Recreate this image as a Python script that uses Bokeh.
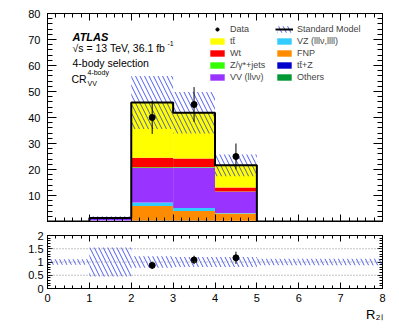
import numpy as np
from bokeh.plotting import figure
from bokeh.models import (Label, Legend, LegendItem, LinearAxis, FixedTicker, Span, Title,
                          Range1d, ColumnDataSource, CustomLabelingPolicy)
from bokeh.layouts import column
from bokeh.embed import file_html
from bokeh.resources import INLINE

# ---------------- data ----------------
edges = [0, 1, 2, 3, 4, 5, 6, 7, 8]
centers = [0.5, 1.5, 2.5, 3.5, 4.5, 5.5, 6.5, 7.5]
others = [0, 0, 0.3, 0.3, 0.2, 0, 0, 0]
ttz = [0, 0, 0.1, 0.1, 0.1, 0, 0, 0]
fnp = [0, 0.3, 5.6, 3.6, 2.8, 0, 0, 0]
vz = [0, 0.1, 1.3, 1.2, 0.2, 0, 0, 0]
vv = [0, 0.8, 13.3, 15.6, 8.1, 0, 0, 0]
zjets = [0, 0, 0.3, 0.2, 0.1, 0, 0, 0]
wt = [0, 0, 3.6, 3.2, 1.6, 0, 0, 0]
ttbar = [0, 0.1, 21.3, 17.6, 8.5, 0, 0, 0]
sm_err = [0, 0.7, 10.2, 8.0, 4.2, 0, 0, 0]
ratio_err = [0.1, 0.55, 0.22, 0.19, 0.19, 0.12, 0.12, 0.12]
data_x = [2.5, 3.5, 4.5]
data_y = [40, 45, 25]
data_err = [6.3, 6.7, 5.0]

names = ["others", "ttz", "fnp", "vz", "vv", "zjets", "wt", "ttbar"]
colors = ["#009933", "#0000CC", "#FF8C00", "#33CCFF", "#9933FF", "#33FF00", "#FF0000", "#FFFF00"]
labels = {"others": "Others", "ttz": "tt\u0304+Z", "fnp": "FNP", "vz": "VZ (lll\u03bd,llll)",
          "vv": "VV (ll\u03bd\u03bd)", "zjets": "Z/\u03b3*+jets", "wt": "Wt", "ttbar": "tt\u0304"}

FONT = "Liberation Sans"
HATCH = "#2233ee"

total = [sum(v) for v in zip(others, ttz, fnp, vz, vv, zjets, wt, ttbar)]
band_lo = [t - e for t, e in zip(total, sm_err)]
band_hi = [t + e for t, e in zip(total, sm_err)]

src = ColumnDataSource(dict(x=centers, others=others, ttz=ttz, fnp=fnp, vz=vz, vv=vv,
                            zjets=zjets, wt=wt, ttbar=ttbar))

NO_LABELS = "for (let i = 0; i < indices.size; i++) { indices.unset(i) } return indices"


def style_axes(p, xmaj, xmin, ymaj, ymin, xtick, ytick, show_x_labels, ylab_standoff, hide_zero=False):
    p.xaxis.visible = False
    p.yaxis.visible = False
    for place, dim in (("below", "x"), ("above", "x"), ("left", "y"), ("right", "y")):
        ticks = xmaj if dim == "x" else ymaj
        minor = xmin if dim == "x" else ymin
        tl = xtick if dim == "x" else ytick
        ax = LinearAxis(ticker=FixedTicker(ticks=ticks, minor_ticks=minor))
        ax.major_tick_in = tl[0]
        ax.major_tick_out = 0
        ax.minor_tick_in = tl[1]
        ax.minor_tick_out = 0
        ax.axis_line_color = "black"
        ax.major_tick_line_color = "black"
        ax.minor_tick_line_color = "black"
        ax.major_label_text_font = FONT
        ax.major_label_text_color = "black"
        ax.major_label_text_font_size = "11px"
        show = (place == "below" and show_x_labels) or place == "left"
        if not show:
            ax.major_label_text_font_size = "1px"
            ax.major_label_standoff = 0
            ax.major_label_policy = CustomLabelingPolicy(code=NO_LABELS)
        else:
            ax.major_label_standoff = 5 if place == "below" else ylab_standoff
        if place == "left" and hide_zero:
            ax.major_label_overrides = {0: ""}
        p.add_layout(ax, place)


# ---------------- upper panel ----------------
p = figure(width=391, height=227, x_range=Range1d(0, 8), y_range=Range1d(0, 80),
           output_backend="svg", toolbar_location=None, min_border_left=47, min_border_right=9,
           min_border_top=13, min_border_bottom=6)
p.grid.visible = False
p.outline_line_color = "black"
p.background_fill_color = "white"

stack = p.vbar_stack(names, x="x", width=1.0, source=src, color=colors, line_color=None)

band = p.quad(left=edges[:-1], right=edges[1:], bottom=band_lo, top=band_hi,
              fill_alpha=0, line_color=None, hatch_pattern="\\", hatch_color=HATCH,
              hatch_scale=9, hatch_weight=0.8)
line = p.step(x=edges, y=total + [total[-1]], mode="after", line_width=2, line_color="black")

p.segment(x0=data_x, y0=[y - e for y, e in zip(data_y, data_err)],
          x1=data_x, y1=[y + e for y, e in zip(data_y, data_err)], line_color="black", line_width=1)
pts = p.scatter(x=data_x, y=data_y, size=6, color="black")

style_axes(p, list(range(0, 9)), list(np.arange(0, 8.01, 0.2)),
           list(range(0, 81, 10)), list(range(0, 81, 2)), (7, 4), (9, 5), False, 7, hide_zero=True)

rmap = dict(zip(names, stack))
items = [LegendItem(label="Data", renderers=[pts]),
         LegendItem(label=labels["ttbar"], renderers=[rmap["ttbar"]]),
         LegendItem(label=labels["wt"], renderers=[rmap["wt"]]),
         LegendItem(label=labels["zjets"], renderers=[rmap["zjets"]]),
         LegendItem(label=labels["vv"], renderers=[rmap["vv"]]),
         LegendItem(label="Standard Model", renderers=[band, line]),
         LegendItem(label=labels["vz"], renderers=[rmap["vz"]]),
         LegendItem(label=labels["fnp"], renderers=[rmap["fnp"]]),
         LegendItem(label=labels["ttz"], renderers=[rmap["ttz"]]),
         LegendItem(label=labels["others"], renderers=[rmap["others"]])]
leg = Legend(items=items, location=(161, 139), nrows=5, orientation="vertical",
             label_text_font=FONT, label_text_font_size="9px", glyph_width=18, glyph_height=8,
             label_height=8, label_width=43, label_standoff=4, spacing=2, padding=0, margin=0,
             border_line_color=None, background_fill_alpha=0)
p.add_layout(leg, "center")

txt = dict(x_units="screen", y_units="screen", text_font=FONT, text_color="black",
           text_baseline="middle")
p.add_layout(Label(x=25, y=185, text="ATLAS", text_font_size="11px", text_font_style="bold italic", **txt))
p.add_layout(Label(x=25, y=174, text="\u221as = 13 TeV, 36.1 fb", text_font_size="10.5px", **txt))
p.add_layout(Label(x=120, y=178, text="-1", text_font_size="7px", **txt))
p.add_layout(Label(x=25, y=159, text="4-body selection", text_font_size="10.5px", **txt))
p.add_layout(Label(x=24, y=143, text="CR", text_font_size="10.5px", **txt))
p.add_layout(Label(x=40, y=149, text="4-body", text_font_size="7px", **txt))
p.add_layout(Label(x=40, y=138, text="VV", text_font_size="7px", **txt))
p.add_layout(Label(x=-37, y=213, text="Events", text_font_size="14px", angle=np.pi / 2,
                   x_units="screen", y_units="screen", text_font=FONT, text_align="right",
                   text_baseline="middle"))

# ---------------- lower panel ----------------
r = figure(width=391, height=94, x_range=Range1d(0, 8), y_range=Range1d(0, 2),
           output_backend="svg", toolbar_location=None, min_border_left=47, min_border_right=9,
           min_border_top=8, min_border_bottom=32)
r.grid.visible = False
r.outline_line_color = "black"

for v in (0.5, 1.0, 1.5):
    r.add_layout(Span(location=v, dimension="width", line_color="#888888", line_dash="1 2", line_width=1))

r.quad(left=edges[:-1], right=edges[1:], bottom=[1 - e for e in ratio_err],
       top=[1 + e for e in ratio_err], fill_alpha=0, line_color=None, hatch_pattern="\\",
       hatch_color=HATCH, hatch_scale=9, hatch_weight=0.8)

tot_at = [total[int(x)] for x in data_x]
ratio = [y / t for y, t in zip(data_y, tot_at)]
rerr = [e / t for e, t in zip(data_err, tot_at)]
r.segment(x0=data_x, y0=[a - b for a, b in zip(ratio, rerr)], x1=data_x,
          y1=[a + b for a, b in zip(ratio, rerr)], line_color="black", line_width=1)
r.scatter(x=data_x, y=ratio, size=6, color="black")

style_axes(r, list(range(0, 9)), list(np.arange(0, 8.01, 0.2)),
           [0, 0.5, 1, 1.5, 2], list(np.arange(0, 2.01, 0.1)), (6, 3), (5, 3), True, 4)

r.add_layout(Label(x=-37, y=27, text="Data / SM", text_font_size="12px", angle=np.pi / 2,
                   x_units="screen", y_units="screen", text_font=FONT, text_align="center",
                   text_baseline="middle"))
r.add_layout(Title(text="R\u2082\u2097", align="right", text_font=FONT, text_font_size="13px",
                   text_font_style="normal", text_color="black", standoff=0), "below")

lay = column(p, r, spacing=0)
open("out.html", "w").write(file_html(lay, INLINE))
